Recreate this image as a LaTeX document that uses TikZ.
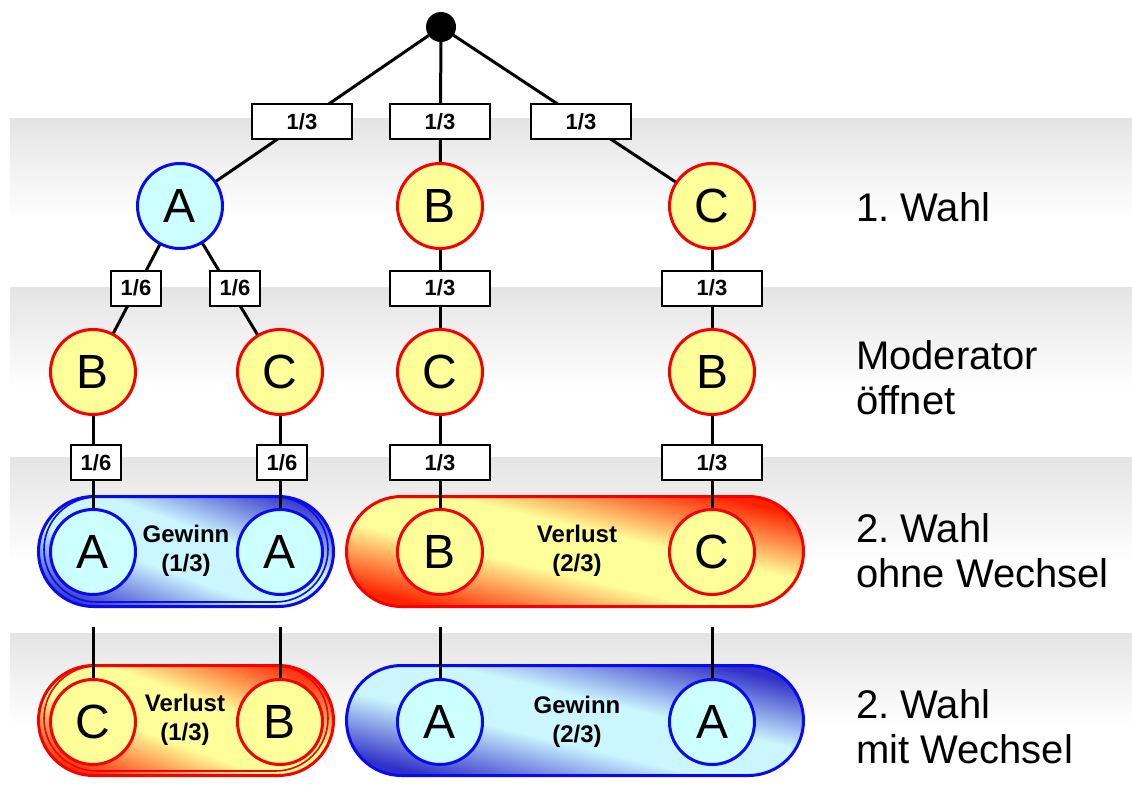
\documentclass[tikz,border=0pt]{standalone}
\usepackage{fontspec}
\setmainfont{Liberation Sans}
\usetikzlibrary{shapes.misc}
\frenchspacing

% colours
\definecolor{bandgray}{HTML}{E4E4E4}
\definecolor{discyellow}{HTML}{FFFF99}
\definecolor{disccyan}{HTML}{CCFFFF}
\definecolor{ringred}{HTML}{F80000}
\definecolor{ringblue}{HTML}{0A0AF0}
\definecolor{pbdark}{HTML}{3030C8}
\definecolor{pblight}{HTML}{CCF6FF}
\definecolor{prdark}{HTML}{FF2200}
\definecolor{prlight}{HTML}{FFFF99}

% shadings for the row bands and the outcome capsules
\pgfdeclareverticalshading{bandshade}{100bp}{color(0bp)=(white); color(45bp)=(white); color(75bp)=(bandgray); color(100bp)=(bandgray)}
\pgfdeclareverticalshading{winshade}{100bp}{color(0bp)=(pbdark); color(28bp)=(pbdark); color(44bp)=(pblight); color(56bp)=(pblight); color(72bp)=(pbdark); color(100bp)=(pbdark)}
\pgfdeclareverticalshading{lossshade}{100bp}{color(0bp)=(prdark); color(28bp)=(prdark); color(44bp)=(prlight); color(56bp)=(prlight); color(72bp)=(prdark); color(100bp)=(prdark)}

% tilted gradient clipped to a capsule:
% #1 shading, #2/#3 centre, #4/#5 width/height, #6 end radius, #7 tilt
\newcommand\capshade[7]{%
  \begin{scope}
    \clip[rounded corners=#6] ({#2-#4/2},{#3-#5/2}) rectangle ({#2+#4/2},{#3+#5/2});
    \begin{scope}[transform canvas={shift={(#2,#3)}, rotate=#7}]
      \shade[shading=#1] (-300,-100) rectangle (300,100);
    \end{scope}
  \end{scope}}

% drawing layers: bands, capsules, links, then discs and labels
\pgfdeclarelayer{bandlayer}
\pgfdeclarelayer{caplayer}
\pgfdeclarelayer{linklayer}
\pgfsetlayers{bandlayer,caplayer,linklayer,main}

\begin{document}
\begin{tikzpicture}[x=1pt, y=-1pt,
  every node/.style={inner sep=0pt, outer sep=0pt},
  link/.style={line width=3pt, black},
  disc/.style={circle, line width=3pt, minimum size=85pt, font=\fontsize{48}{48}\selectfont},
  yellowdisc/.style={disc, draw=ringred, fill=discyellow},
  cyandisc/.style={disc, draw=ringblue, fill=disccyan},
  prob/.style={draw=black, line width=2pt, fill=white, minimum height=35pt, font=\bfseries\fontsize{22}{22}\selectfont},
  wideprob/.style={prob, minimum width=100pt},
  narrowprob/.style={prob, minimum width=50pt},
  capsule/.style={rounded rectangle, minimum height=110pt},
  wincap/.style={capsule, draw=ringblue, line width=3pt},
  losscap/.style={capsule, draw=ringred, line width=3pt},
  wininner/.style={capsule, draw=ringblue, line width=1.6pt},
  lossinner/.style={capsule, draw=ringred, line width=1.6pt},
  captext/.style={align=center, font=\bfseries\fontsize{24}{29}\selectfont},
  rowlabel/.style={anchor=west, align=left, font=\fontsize{40}{45}\selectfont}
]
\useasboundingbox (0,0) rectangle (1132,787);

% row bands
\begin{pgfonlayer}{bandlayer}
\fill[white] (0,0) rectangle (1132,787);
\shade[shading=bandshade] (10,118) rectangle (1132,287);
\shade[shading=bandshade] (10,287) rectangle (1132,457);
\shade[shading=bandshade] (10,457) rectangle (1132,633);
\shade[shading=bandshade] (10,633) rectangle (1132,787);
\end{pgfonlayer}

% outcome capsules
\begin{pgfonlayer}{caplayer}
\capshade{winshade}{186}{551.5}{295}{110}{55pt}{-20}
\capshade{lossshade}{575}{551.5}{457}{110}{55pt}{-13.5}
\capshade{lossshade}{186}{720.5}{295}{110}{55pt}{-20}
\capshade{winshade}{575}{720.5}{457}{110}{55pt}{-13.5}
\node[wincap, minimum width=295pt] (win1) at (186,551.5) {};
\node[wininner, minimum width=284pt, minimum height=105pt] (win1in) at (186,549.5) {};
\node[losscap, minimum width=457pt] (loss2) at (575,551.5) {};
\node[losscap, minimum width=295pt] (loss1) at (186,720.5) {};
\node[lossinner, minimum width=284pt, minimum height=105pt] (loss1in) at (186,718.5) {};
\node[wincap, minimum width=457pt] (win2) at (575,720.5) {};
\end{pgfonlayer}

% tree nodes
\node[circle, fill=black, minimum size=30pt] (root) at (441,27) {};

\node[cyandisc] (a1) at (180,206) {A};
\node[yellowdisc] (b1) at (440,206) {B};
\node[yellowdisc] (c1) at (712,206) {C};

\node[yellowdisc] (b2) at (93,372) {B};
\node[yellowdisc] (c2) at (280,372) {C};
\node[yellowdisc] (c2r) at (440,372) {C};
\node[yellowdisc] (b2r) at (712,372) {B};

\node[cyandisc] (a3) at (93,552) {A};
\node[cyandisc] (a3r) at (280,552) {A};
\node[yellowdisc] (b3) at (440,552) {B};
\node[yellowdisc] (c3) at (712,552) {C};

\node[yellowdisc] (c4) at (93,722) {C};
\node[yellowdisc] (b4) at (280,722) {B};
\node[cyandisc] (a4) at (440,722) {A};
\node[cyandisc] (a4r) at (712,722) {A};

% free upper ends of the switching links
\coordinate (s1) at (93,627);
\coordinate (s2) at (280,627);
\coordinate (s3) at (440,627);
\coordinate (s4) at (712,627);

% probability labels
\node[wideprob] (p1) at (302,121.5) {1/3};
\node[wideprob] (p2) at (440,121.5) {1/3};
\node[wideprob] (p3) at (581,121.5) {1/3};

\node[narrowprob] (p4) at (136,288) {1/6};
\node[narrowprob] (p5) at (235,288) {1/6};
\node[wideprob] (p6) at (440,288) {1/3};
\node[wideprob] (p7) at (712,288) {1/3};

\node[narrowprob] (p8) at (96,462.5) {1/6};
\node[narrowprob] (p9) at (282,462.5) {1/6};
\node[wideprob] (p10) at (440,462.5) {1/3};
\node[wideprob] (p11) at (712,462.5) {1/3};

% links, kept beneath discs and labels
\begin{pgfonlayer}{linklayer}
\draw[link] (root) -- (a1);
\draw[link] (root) -- (b1);
\draw[link] (root) -- (c1);
\draw[link] (a1) -- (b2);
\draw[link] (a1) -- (c2);
\draw[link] (b1) -- (c2r);
\draw[link] (c1) -- (b2r);
\draw[link] (b2) -- (a3);
\draw[link] (c2) -- (a3r);
\draw[link] (c2r) -- (b3);
\draw[link] (b2r) -- (c3);
\draw[link] (s1) -- (c4);
\draw[link] (s2) -- (b4);
\draw[link] (s3) -- (a4);
\draw[link] (s4) -- (a4r);
\end{pgfonlayer}

% outcome texts
\node[captext] (t1) at (186,551) {Gewinn\\(1/3)};
\node[captext] (t2) at (577,551) {Verlust\\(2/3)};
\node[captext] (t3) at (185,720) {Verlust\\(1/3)};
\node[captext] (t4) at (577,722) {Gewinn\\(2/3)};

% row captions
\node[rowlabel] (r1) at (856,207) {1. Wahl};
\node[rowlabel] (r2) at (856,378) {Moderator\\öffnet};
\node[rowlabel] (r3) at (856,551) {2. Wahl\\ohne Wechsel};
\node[rowlabel] (r4) at (856,727) {2. Wahl\\mit Wechsel};
\end{tikzpicture}
\end{document}
